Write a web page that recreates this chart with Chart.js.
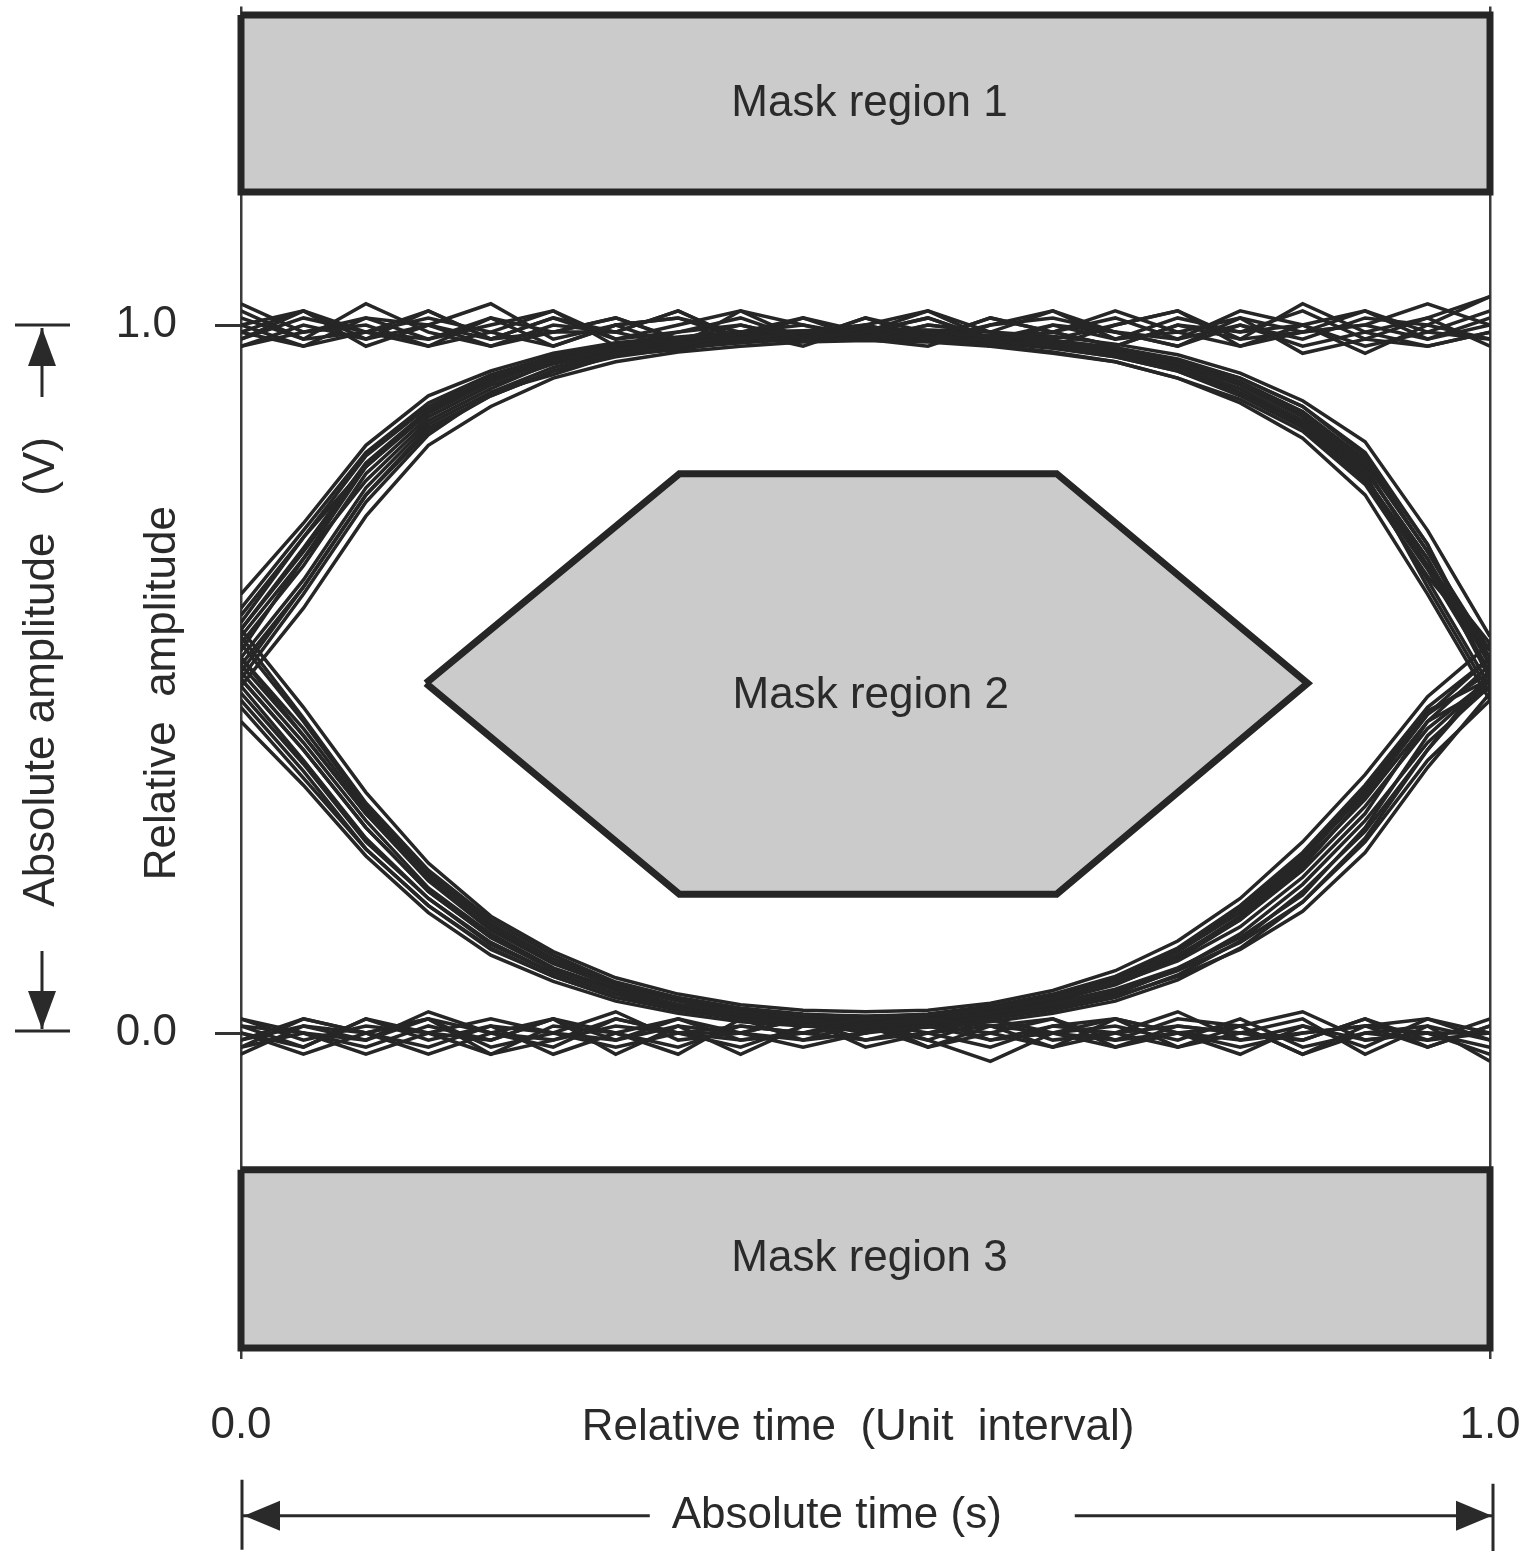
<!DOCTYPE html>
<html>
<head>
<meta charset="utf-8">
<script src="https://cdn.jsdelivr.net/npm/chart.js@4.4.1/dist/chart.umd.min.js"></script>
<style>
html,body{margin:0;padding:0;background:#ffffff;}
canvas{display:block;}
</style>
</head>
<body>
<canvas id="eye" width="1531" height="1551"></canvas>
<script>
// ---------- data ----------
const timeUI = [0, 0.05, 0.10, 0.15, 0.20, 0.25, 0.30, 0.35, 0.40, 0.45, 0.50, 0.55, 0.60, 0.65, 0.70, 0.75, 0.80, 0.85, 0.90, 0.95, 1.00];

const xTickValues = [0, 1];
const xTickLabels = ['0.0', '1.0'];
const yTickValues = [0, 1];
const yTickLabels = ['0.0', '1.0'];

const xAxisTitle = 'Relative time  (Unit  interval)';
const xAbsTitle = 'Absolute time (s)';
const yAxisTitle = 'Relative  amplitude';
const yAbsTitle = 'Absolute amplitude   (V)';

const maskNames = ['Mask region 1', 'Mask region 2', 'Mask region 3'];
const mask1X = [0, 1, 1, 0, 0];
const mask1Y = [1.438, 1.438, 1.188, 1.188, 1.438];
const mask2X = [0.148, 0.351, 0.653, 0.854, 0.653, 0.351, 0.148];
const mask2Y = [0.494, 0.790, 0.790, 0.494, 0.196, 0.196, 0.494];
const mask3X = [0, 1, 1, 0, 0];
const mask3Y = [-0.193, -0.193, -0.445, -0.445, -0.193];

const highHigh = [
  [1.01, 0.98, 1.03, 0.99, 0.97, 1.00, 0.99, 1.02, 0.98, 0.99, 1.00, 0.98, 1.01, 0.99, 0.97, 1.00, 0.98, 1.03, 0.99, 0.97, 0.99],
  [0.98, 1.02, 0.97, 1.00, 1.03, 0.98, 1.00, 0.97, 0.99, 1.01, 0.98, 1.00, 0.99, 1.02, 0.99, 0.97, 1.00, 0.98, 1.01, 1.00, 1.04],
  [1.03, 0.99, 1.00, 0.97, 0.99, 1.02, 0.97, 0.99, 1.01, 0.98, 0.99, 1.01, 0.98, 0.99, 1.02, 0.99, 1.01, 0.96, 0.98, 1.01, 0.97],
  [0.97, 1.00, 0.98, 1.02, 0.98, 0.99, 1.01, 0.98, 1.00, 0.98, 1.01, 0.99, 0.97, 1.00, 0.98, 1.01, 0.99, 1.00, 0.97, 0.99, 1.02],
  [1.00, 1.02, 0.99, 0.98, 1.01, 0.97, 1.00, 1.01, 0.99, 0.97, 1.00, 1.02, 0.99, 0.98, 1.00, 1.02, 0.97, 0.99, 1.02, 0.98, 1.00],
  [0.99, 0.97, 1.01, 1.00, 0.98, 1.01, 0.99, 0.97, 1.02, 1.00, 0.98, 0.97, 1.00, 1.01, 0.99, 0.98, 1.02, 1.00, 0.96, 1.00, 0.98]
];
const highFall = [
  [0.99, 1.02, 0.98, 1.00, 0.97, 0.99, 1.01, 0.98, 0.99, 1.00, 0.985, 0.983, 0.978, 0.97, 0.958, 0.94, 0.91, 0.865, 0.795, 0.67, 0.52],
  [0.97, 0.99, 1.01, 0.98, 1.00, 1.02, 0.98, 0.99, 1.00, 0.98, 0.99, 0.99, 0.985, 0.978, 0.968, 0.952, 0.925, 0.885, 0.815, 0.69, 0.50],
  [1.02, 0.98, 0.99, 1.01, 0.99, 0.97, 1.00, 1.01, 0.98, 0.99, 0.983, 0.98, 0.972, 0.962, 0.948, 0.925, 0.895, 0.85, 0.775, 0.645, 0.54],
  [1.00, 0.97, 0.99, 1.02, 0.98, 1.01, 0.98, 1.00, 1.02, 0.98, 0.99, 0.985, 0.98, 0.968, 0.955, 0.935, 0.902, 0.858, 0.78, 0.655, 0.51],
  [0.98, 1.01, 0.99, 0.97, 1.01, 0.99, 0.99, 1.02, 0.98, 1.01, 0.99, 0.988, 0.982, 0.975, 0.962, 0.946, 0.918, 0.875, 0.805, 0.68, 0.53]
];
const riseHigh = [
  [0.56, 0.67, 0.80, 0.875, 0.92, 0.95, 0.965, 0.975, 0.982, 0.99, 1.00, 0.98, 1.01, 0.99, 0.97, 1.00, 0.99, 1.02, 0.98, 0.97, 0.99],
  [0.53, 0.64, 0.77, 0.86, 0.905, 0.94, 0.96, 0.97, 0.985, 0.98, 0.99, 1.01, 0.98, 0.99, 1.01, 0.98, 1.00, 0.97, 0.99, 1.01, 1.04],
  [0.59, 0.70, 0.815, 0.885, 0.927, 0.952, 0.97, 0.978, 0.983, 0.99, 0.98, 1.00, 0.99, 0.97, 1.00, 1.02, 0.98, 0.99, 1.00, 0.98, 1.01],
  [0.51, 0.63, 0.76, 0.855, 0.90, 0.935, 0.958, 0.97, 0.975, 0.985, 0.99, 1.02, 0.98, 1.00, 0.99, 0.97, 1.01, 0.99, 1.00, 1.03, 1.00],
  [0.57, 0.685, 0.805, 0.88, 0.925, 0.948, 0.968, 0.975, 0.99, 0.98, 1.01, 0.98, 1.00, 1.02, 0.98, 0.99, 0.97, 1.00, 1.02, 0.99, 0.98]
];
const riseFall = [
  [0.55, 0.66, 0.79, 0.87, 0.915, 0.945, 0.962, 0.972, 0.98, 0.984, 0.986, 0.984, 0.98, 0.972, 0.962, 0.945, 0.915, 0.87, 0.80, 0.66, 0.51],
  [0.57, 0.68, 0.80, 0.88, 0.92, 0.95, 0.97, 0.98, 0.985, 0.99, 0.99, 0.988, 0.985, 0.978, 0.968, 0.95, 0.925, 0.885, 0.82, 0.69, 0.52],
  [0.52, 0.63, 0.76, 0.85, 0.90, 0.935, 0.955, 0.967, 0.975, 0.98, 0.982, 0.98, 0.975, 0.967, 0.955, 0.935, 0.90, 0.855, 0.78, 0.64, 0.49],
  [0.60, 0.71, 0.82, 0.89, 0.93, 0.956, 0.972, 0.98, 0.985, 0.988, 0.99, 0.988, 0.984, 0.976, 0.966, 0.948, 0.92, 0.878, 0.81, 0.68, 0.54],
  [0.58, 0.70, 0.80, 0.88, 0.92, 0.95, 0.965, 0.978, 0.982, 0.99, 0.985, 0.99, 0.982, 0.975, 0.96, 0.942, 0.91, 0.862, 0.785, 0.66, 0.55],
  [0.50, 0.62, 0.75, 0.845, 0.905, 0.93, 0.958, 0.965, 0.978, 0.982, 0.988, 0.982, 0.978, 0.97, 0.958, 0.94, 0.905, 0.86, 0.79, 0.63, 0.48],
  [0.54, 0.67, 0.78, 0.865, 0.91, 0.948, 0.96, 0.975, 0.978, 0.986, 0.984, 0.986, 0.982, 0.97, 0.965, 0.945, 0.918, 0.872, 0.795, 0.67, 0.50],
  [0.62, 0.72, 0.83, 0.90, 0.935, 0.96, 0.975, 0.983, 0.99, 0.992, 0.995, 0.993, 0.99, 0.984, 0.973, 0.958, 0.932, 0.893, 0.835, 0.71, 0.56],
  [0.49, 0.60, 0.73, 0.83, 0.885, 0.925, 0.948, 0.962, 0.97, 0.976, 0.978, 0.976, 0.97, 0.96, 0.948, 0.925, 0.89, 0.84, 0.76, 0.62, 0.47]
];
const lowLow = [
  [0.00, -0.02, 0.02, -0.01, 0.01, -0.03, 0.00, 0.02, -0.01, 0.00, 0.01, -0.02, 0.00, 0.02, -0.01, 0.00, -0.03, 0.01, -0.01, 0.00, -0.02],
  [-0.03, 0.01, -0.01, 0.02, -0.02, 0.00, 0.03, -0.01, 0.00, -0.02, 0.00, 0.01, -0.01, 0.00, 0.02, -0.02, 0.00, -0.01, 0.02, -0.02, 0.01],
  [0.01, 0.00, -0.03, 0.00, 0.02, 0.00, -0.02, 0.00, 0.01, 0.00, -0.01, 0.00, 0.02, -0.01, 0.00, 0.01, 0.00, 0.02, -0.03, 0.01, -0.04],
  [-0.02, 0.02, 0.00, -0.03, 0.00, 0.02, -0.01, 0.01, -0.03, 0.01, 0.02, -0.01, -0.04, 0.00, 0.01, -0.01, 0.02, -0.02, 0.00, -0.01, 0.02],
  [0.02, 0.00, -0.02, 0.01, -0.01, 0.02, 0.00, -0.03, 0.02, -0.01, 0.00, 0.02, 0.01, -0.02, 0.00, 0.03, -0.01, 0.00, 0.01, 0.02, -0.01],
  [-0.01, 0.01, 0.00, 0.02, -0.03, -0.01, 0.02, 0.00, 0.00, 0.02, -0.02, 0.00, 0.01, 0.02, -0.02, 0.00, 0.01, -0.03, 0.01, 0.00, 0.00]
];
const lowRise = [
  [-0.01, 0.02, 0.00, -0.02, 0.01, 0.00, -0.01, 0.02, 0.00, -0.01, 0.014, 0.02, 0.028, 0.042, 0.062, 0.092, 0.135, 0.195, 0.29, 0.42, 0.50],
  [0.02, -0.01, 0.01, 0.00, -0.03, 0.01, 0.00, -0.02, 0.01, 0.00, 0.01, 0.015, 0.022, 0.035, 0.052, 0.08, 0.118, 0.172, 0.255, 0.375, 0.48],
  [0.00, -0.03, 0.00, 0.02, 0.00, -0.01, 0.01, 0.00, -0.02, 0.01, 0.02, 0.025, 0.035, 0.05, 0.075, 0.11, 0.16, 0.235, 0.335, 0.45, 0.53],
  [0.01, -0.02, 0.02, 0.00, -0.01, 0.02, -0.03, 0.01, 0.00, 0.02, 0.01, 0.018, 0.025, 0.038, 0.058, 0.088, 0.128, 0.185, 0.275, 0.40, 0.51],
  [-0.02, 0.00, -0.01, 0.03, 0.00, -0.02, 0.02, 0.00, -0.01, 0.00, 0.02, 0.022, 0.032, 0.048, 0.07, 0.102, 0.15, 0.22, 0.31, 0.44, 0.49]
];
const fallLow = [
  [0.50, 0.40, 0.29, 0.20, 0.135, 0.09, 0.06, 0.04, 0.03, 0.02, 0.01, -0.01, 0.02, 0.00, -0.02, 0.01, 0.00, -0.01, 0.02, -0.01, 0.00],
  [0.47, 0.37, 0.26, 0.18, 0.12, 0.08, 0.05, 0.035, 0.02, 0.015, 0.00, 0.02, -0.01, 0.01, 0.00, -0.02, 0.01, 0.03, -0.01, 0.00, -0.03],
  [0.53, 0.42, 0.31, 0.22, 0.15, 0.10, 0.065, 0.045, 0.03, 0.02, 0.015, 0.00, -0.02, 0.01, 0.02, 0.00, -0.02, 0.00, 0.01, -0.02, 0.01],
  [0.49, 0.385, 0.275, 0.19, 0.128, 0.085, 0.055, 0.038, 0.025, 0.018, -0.01, 0.01, 0.00, -0.02, 0.02, 0.00, -0.01, 0.01, -0.02, 0.02, 0.00],
  [0.56, 0.445, 0.325, 0.23, 0.16, 0.11, 0.072, 0.05, 0.035, 0.025, 0.02, -0.02, 0.01, 0.00, -0.01, 0.02, 0.01, -0.03, 0.00, 0.01, -0.01]
];
const fallRise = [
  [0.50, 0.40, 0.29, 0.20, 0.135, 0.09, 0.06, 0.04, 0.028, 0.02, 0.015, 0.02, 0.03, 0.045, 0.068, 0.105, 0.16, 0.23, 0.32, 0.43, 0.50],
  [0.48, 0.38, 0.27, 0.19, 0.125, 0.085, 0.055, 0.035, 0.022, 0.014, 0.01, 0.014, 0.022, 0.035, 0.055, 0.09, 0.14, 0.21, 0.30, 0.41, 0.49],
  [0.52, 0.42, 0.31, 0.215, 0.145, 0.098, 0.066, 0.046, 0.032, 0.024, 0.02, 0.024, 0.034, 0.05, 0.075, 0.115, 0.17, 0.245, 0.34, 0.45, 0.51],
  [0.55, 0.44, 0.32, 0.225, 0.155, 0.105, 0.07, 0.05, 0.035, 0.027, 0.022, 0.027, 0.038, 0.055, 0.08, 0.12, 0.18, 0.255, 0.35, 0.46, 0.53],
  [0.46, 0.36, 0.26, 0.18, 0.118, 0.08, 0.05, 0.032, 0.02, 0.012, 0.008, 0.012, 0.02, 0.032, 0.05, 0.082, 0.13, 0.20, 0.285, 0.40, 0.50],
  [0.51, 0.41, 0.30, 0.205, 0.14, 0.092, 0.062, 0.04, 0.03, 0.02, 0.018, 0.022, 0.03, 0.045, 0.07, 0.108, 0.165, 0.24, 0.33, 0.44, 0.52],
  [0.53, 0.43, 0.315, 0.22, 0.15, 0.10, 0.068, 0.048, 0.034, 0.026, 0.024, 0.026, 0.036, 0.052, 0.078, 0.118, 0.175, 0.25, 0.345, 0.455, 0.50],
  [0.44, 0.35, 0.25, 0.17, 0.11, 0.073, 0.045, 0.028, 0.016, 0.01, 0.005, 0.008, 0.016, 0.028, 0.045, 0.075, 0.12, 0.185, 0.27, 0.385, 0.47],
  [0.57, 0.46, 0.34, 0.24, 0.165, 0.115, 0.078, 0.055, 0.04, 0.032, 0.03, 0.032, 0.042, 0.06, 0.088, 0.13, 0.19, 0.27, 0.365, 0.475, 0.55]
];

// ---------- styles ----------
const INK = '#262626';
const TEXT = '#2a2a2a';
const MASK_FILL = '#cbcbcb';
const FONT_FAMILY = '"Liberation Sans", Arial, Helvetica, sans-serif';
const FONT_SIZE = 44;

const traceSets = [highHigh, highFall, riseHigh, riseFall, lowLow, lowRise, fallLow, fallRise];
const traceDatasets = [];
traceSets.forEach(set => set.forEach(ys => {
  traceDatasets.push({
    type: 'scatter',
    data: ys.map((v, i) => ({ x: timeUI[i], y: v })),
    showLine: true,
    borderColor: INK,
    borderWidth: 3.5,
    pointRadius: 0,
    tension: 0,
    fill: false,
    order: 0
  });
}));

function maskDataset(xs, ys) {
  return {
    type: 'scatter',
    data: xs.map((x, i) => ({ x: x, y: ys[i] })),
    showLine: true,
    borderColor: INK,
    borderWidth: 7,
    borderJoinStyle: 'miter',
    backgroundColor: MASK_FILL,
    fill: 'shape',
    pointRadius: 0,
    tension: 0,
    clip: 8,
    order: 10
  };
}
const maskDatasets = [maskDataset(mask1X, mask1Y), maskDataset(mask2X, mask2Y), maskDataset(mask3X, mask3Y)];
const maskSets = [[mask1X, mask1Y], [mask2X, mask2Y], [mask3X, mask3Y]];

// ---------- annotation plugin ----------
function arrowHead(ctx, tipX, tipY, dx, dy, len, half) {
  const bx = tipX - dx * len, by = tipY - dy * len;
  ctx.beginPath();
  ctx.moveTo(tipX, tipY);
  ctx.lineTo(bx - dy * half, by + dx * half);
  ctx.lineTo(bx + dy * half, by - dx * half);
  ctx.closePath();
  ctx.fill();
}

const annotations = {
  id: 'annotations',
  afterDraw(chart) {
    const ctx = chart.ctx;
    const a = chart.chartArea;
    const xs = chart.scales.x, ys = chart.scales.y;
    ctx.save();
    ctx.fillStyle = TEXT;
    ctx.strokeStyle = TEXT;
    ctx.font = FONT_SIZE + 'px ' + FONT_FAMILY;
    ctx.textAlign = 'center';
    ctx.textBaseline = 'middle';

    maskSets.forEach((m, k) => {
      const cx = (Math.min(...m[0]) + Math.max(...m[0])) / 2;
      const cy = (Math.min(...m[1]) + Math.max(...m[1])) / 2;
      const extra = k === 1 ? 12 : 0;
      ctx.fillText(maskNames[k], xs.getPixelForValue(cx) + 4, ys.getPixelForValue(cy) + extra);
    });

    const tickLineY = a.bottom + 69;
    ctx.fillText(xAxisTitle, xs.getPixelForValue(0.494), tickLineY);

    const absY = a.bottom + 157;
    const absCx = xs.getPixelForValue(0.477);
    ctx.fillText(xAbsTitle, absCx, absY);
    ctx.lineWidth = 3;
    ctx.beginPath();
    ctx.moveTo(a.left + 2, absY); ctx.lineTo(absCx - 187, absY);
    ctx.moveTo(absCx + 238, absY); ctx.lineTo(a.right + 3, absY);
    ctx.moveTo(a.left + 1, absY - 36); ctx.lineTo(a.left + 1, absY + 34);
    ctx.moveTo(a.right + 3, absY - 32); ctx.lineTo(a.right + 3, absY + 36);
    ctx.stroke();
    arrowHead(ctx, a.left + 3, absY, -1, 0, 36, 15);
    arrowHead(ctx, a.right + 2, absY, 1, 0, 36, 15);

    ctx.save();
    ctx.translate(163, ys.getPixelForValue(0.48));
    ctx.rotate(-Math.PI / 2);
    ctx.fillText(yAxisTitle, 0, 0);
    ctx.restore();

    const absX = 42;
    const y1 = ys.getPixelForValue(1), y0 = ys.getPixelForValue(0);
    ctx.save();
    ctx.translate(absX, ys.getPixelForValue(0.51));
    ctx.rotate(-Math.PI / 2);
    ctx.fillText(yAbsTitle, 0, 0);
    ctx.restore();
    ctx.lineWidth = 3;
    ctx.beginPath();
    ctx.moveTo(15, y1); ctx.lineTo(70, y1);
    ctx.moveTo(absX, y1 + 3); ctx.lineTo(absX, y1 + 72);
    ctx.moveTo(15, y0 - 2); ctx.lineTo(70, y0 - 2);
    ctx.moveTo(absX, y0 - 4); ctx.lineTo(absX, y0 - 82);
    ctx.stroke();
    arrowHead(ctx, absX, y1 + 3, 0, -1, 38, 14);
    arrowHead(ctx, absX, y0 - 4, 0, 1, 38, 14);

    ctx.restore();
  }
};

function zeroPad(s) { s.paddingLeft = 0; s.paddingRight = 0; s.paddingTop = 0; s.paddingBottom = 0; }

new Chart(document.getElementById('eye'), {
  type: 'scatter',
  data: { datasets: [...traceDatasets, ...maskDatasets] },
  options: {
    responsive: false,
    animation: false,
    devicePixelRatio: 1,
    layout: { autoPadding: false, padding: { top: 6.4, right: 41, bottom: 0, left: 0 } },
    plugins: { legend: { display: false }, tooltip: { enabled: false } },
    scales: {
      x: {
        type: 'linear',
        position: 'bottom',
        min: 0,
        max: 1,
        afterBuildTicks: s => { s.ticks = xTickValues.map(v => ({ value: v })); },
        afterFit: s => { s.height = 192.3; zeroPad(s); },
        ticks: {
          callback: (v, i) => xTickLabels[i],
          color: TEXT,
          font: { family: FONT_FAMILY, size: FONT_SIZE },
          padding: 41,
          maxRotation: 0,
          autoSkip: false
        },
        grid: { drawOnChartArea: true, drawTicks: false, color: '#3a3a3a', lineWidth: 2.5 },
        border: { display: false }
      },
      y: {
        type: 'linear',
        position: 'left',
        min: -0.46,
        max: 1.45,
        afterBuildTicks: s => { s.ticks = yTickValues.map(v => ({ value: v })); },
        afterFit: s => { s.width = 241; zeroPad(s); },
        ticks: {
          callback: (v, i) => yTickLabels[i],
          color: TEXT,
          font: { family: FONT_FAMILY, size: FONT_SIZE },
          padding: 38,
          autoSkip: false
        },
        grid: { drawOnChartArea: false, drawTicks: true, tickLength: 26, color: '#333333', lineWidth: 3 },
        border: { display: false }
      }
    }
  },
  plugins: [annotations]
});
</script>
</body>
</html>
